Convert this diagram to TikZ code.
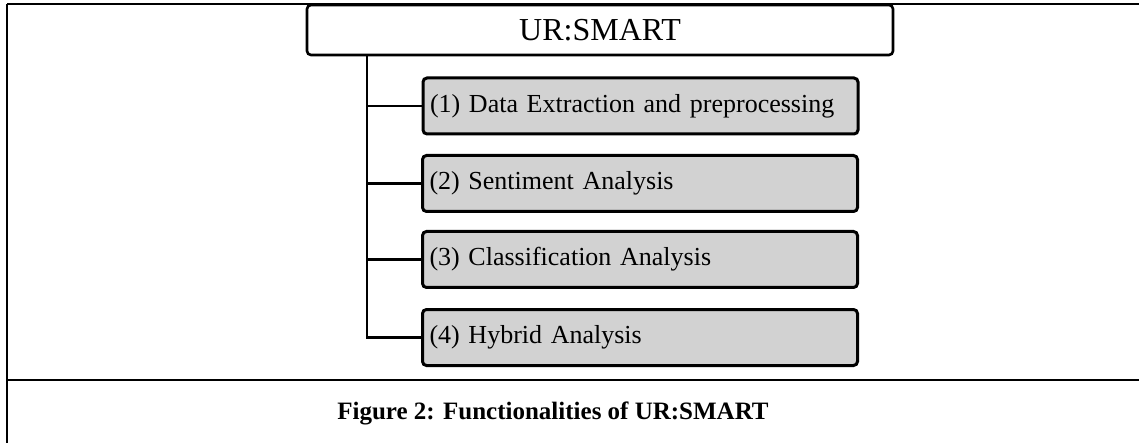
\documentclass[tikz,border=0pt]{standalone}
\usepackage{fontspec}
\setmainfont{Liberation Serif}
\begin{document}
\begin{tikzpicture}[x=1pt,y=-1pt,
  tablerule/.style={line width=2.6pt},
  titlebox/.style={draw,line width=2.6pt,rounded corners=4pt,fill=white,
    minimum width=586pt,minimum height=50pt,inner sep=0pt,font=\fontsize{32}{36}\selectfont},
  funcbox/.style={draw,line width=3pt,rounded corners=4pt,fill=gray!35,
    text width=421pt,inner xsep=7pt,inner ysep=0pt,minimum height=56pt,align=left,
    font=\fontsize{26}{30}\selectfont},
  branch/.style={line width=2.2pt},
  caption/.style={font=\bfseries\fontsize{25}{30}\selectfont}]
\useasboundingbox (0,0) rectangle (1139,443);
% table rules
\draw[tablerule] (7,4) -- (1139,4);
\draw[tablerule] (7,4) -- (7,443);
\draw[tablerule] (7,380) -- (1139,380);
% nodes
\coordinate (t) at (367,55);
\node[titlebox] (title) at (600,30) {UR:SMART};
\node[funcbox] (b1) at (640.5,106) {(1) Data Extraction and preprocessing};
\node[funcbox] (b2) at (640,183.5) {(2) Sentiment Analysis};
\node[funcbox] (b3) at (640,259.5) {(3) Classification Analysis};
\node[funcbox] (b4) at (640,337.5) {(4) Hybrid Analysis};
% connectors
\draw[branch] (t) |- (b4.west);
\draw[branch] (b1.west -| t) -- (b1.west);
\draw[branch] (b2.west -| t) -- (b2.west);
\draw[branch] (b3.west -| t) -- (b3.west);
% caption
\node[caption] (cap) at (553,413) {Figure 2: Functionalities of UR:SMART};
\end{tikzpicture}
\end{document}
